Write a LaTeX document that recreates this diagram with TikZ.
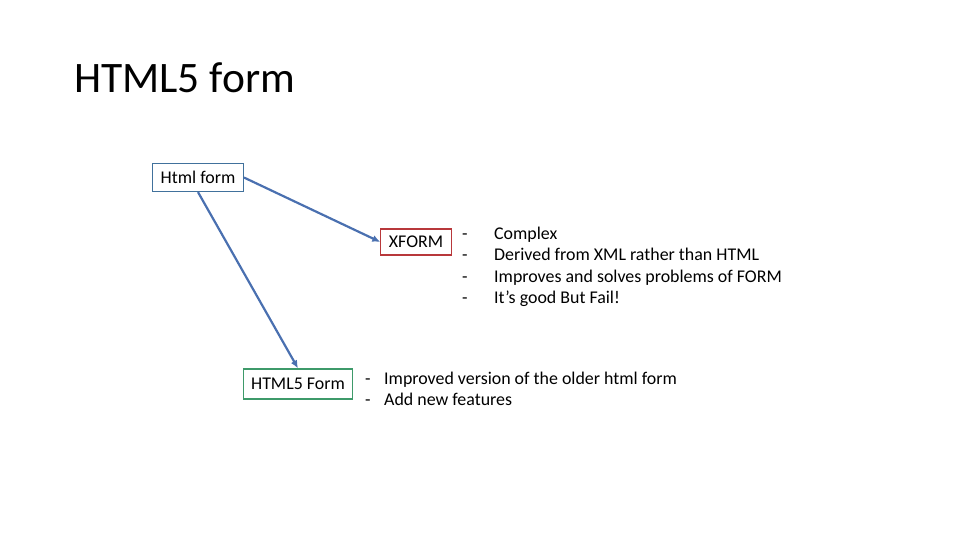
\documentclass[tikz,border=0pt]{standalone}
\usepackage{fontspec}
\setmainfont{Carlito}
\usepackage{tikz}
\usetikzlibrary{positioning,arrows.meta}

\definecolor{boxblue}{HTML}{41719C}
\definecolor{boxred}{HTML}{B8383B}
\definecolor{boxgreen}{HTML}{3E9A6A}
\definecolor{arrowblue}{HTML}{4A70B0}

\begin{document}
\begin{tikzpicture}[
  x=1pt, y=-1pt,
  block/.style={draw, line width=1.2pt, fill=white, inner xsep=8pt, minimum height=28pt, font=\fontsize{17.9}{21.3}\selectfont},
  arrow/.style={-{Latex[length=8pt, width=7pt]}, line width=2.2pt, arrowblue},
  notes/.style={anchor=north west, inner sep=0pt, align=left, font=\fontsize{17.9}{21.3}\selectfont}
]
\useasboundingbox (0,0) rectangle (960,540);
\node[anchor=base west, inner sep=0pt, font=\fontsize{43.5}{50}\selectfont] (title) at (74,93) {HTML5 form};
\node[block, draw=boxblue] (html) at (198,177.5) {Html form};
\node[block, draw=boxred, minimum height=26pt] (xform) at (416,242) {XFORM};
\node[block, draw=boxgreen, minimum height=30pt] (html5) at (298,384) {HTML5 Form};
% lists next to the boxes
\node[notes] (xnotes) at (462,227) {%
  \makebox[32pt][l]{-}Complex\\
  \makebox[32pt][l]{-}Derived from XML rather than HTML\\
  \makebox[32pt][l]{-}Improves and solves problems of FORM\\
  \makebox[32pt][l]{-}It’s good But Fail!};
\node[notes] (h5notes) at (365,372) {%
  \makebox[19pt][l]{-}Improved version of the older html form\\
  \makebox[19pt][l]{-}Add new features};
\draw[arrow] (html.east) -- (xform.west);
\draw[arrow] (html.south) -- (html5.north);
\end{tikzpicture}
\end{document}
